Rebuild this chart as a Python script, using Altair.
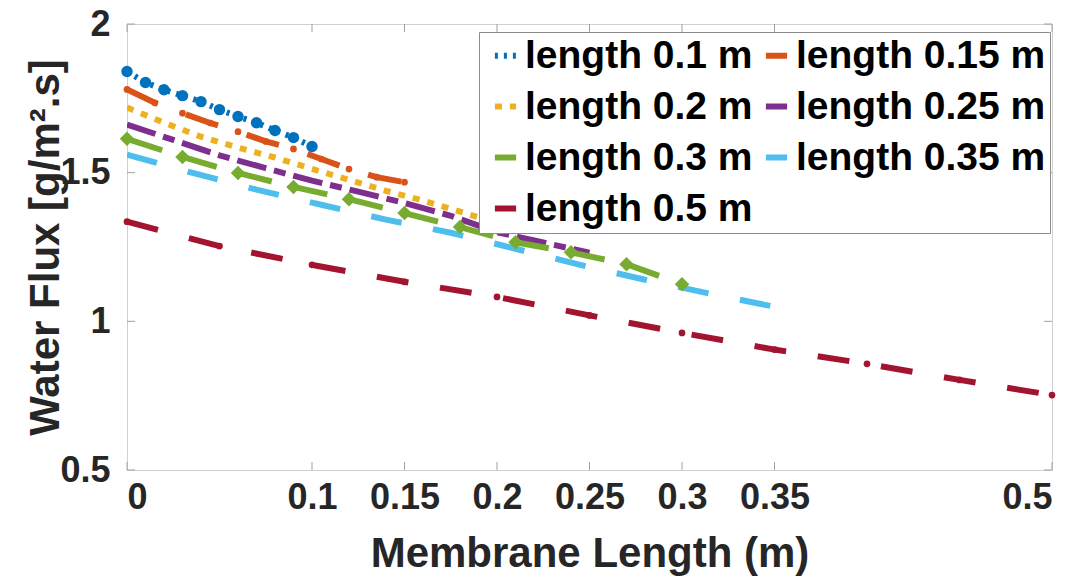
import altair as alt
import pandas as pd

names = ["length 0.1 m", "length 0.15 m", "length 0.2 m", "length 0.25 m",
         "length 0.3 m", "length 0.35 m", "length 0.5 m"]
colors = ["#0072BD", "#D95319", "#EDB120", "#7E2F8E", "#77AC30", "#4DBEEE", "#A2142F"]
dashes = [[3, 6], [34, 30], [7, 8], [30, 8, 12, 8], [37, 20], [31, 32], [32, 32]]

x_010 = [0, 0.01, 0.02, 0.03, 0.04, 0.05, 0.06, 0.07, 0.08, 0.09, 0.10]
y_010 = [1.84, 1.803, 1.779, 1.759, 1.739, 1.712, 1.689, 1.668, 1.642, 1.618, 1.588]

x_015 = [0, 0.015, 0.03, 0.045, 0.06, 0.075, 0.09, 0.105, 0.12, 0.135, 0.15]
y_015 = [1.78, 1.735, 1.70, 1.667, 1.638, 1.605, 1.58, 1.546, 1.512, 1.485, 1.468]

x_020 = [0, 0.02, 0.04, 0.06, 0.08, 0.10, 0.12, 0.14, 0.16, 0.18, 0.20]
y_020 = [1.719, 1.668, 1.621, 1.584, 1.551, 1.513, 1.476, 1.439, 1.406, 1.369, 1.33]

x_025 = [0, 0.025, 0.05, 0.075, 0.10, 0.125, 0.15, 0.175, 0.20, 0.225, 0.25]
y_025 = [1.662, 1.61, 1.558, 1.515, 1.473, 1.436, 1.398, 1.355, 1.30, 1.265, 1.231]

x_030 = [0, 0.03, 0.06, 0.09, 0.12, 0.15, 0.18, 0.21, 0.24, 0.27, 0.30]
y_030 = [1.614, 1.553, 1.499, 1.452, 1.411, 1.364, 1.317, 1.266, 1.232, 1.192, 1.125]

x_035 = [0, 0.035, 0.07, 0.105, 0.14, 0.175, 0.21, 0.245, 0.28, 0.315, 0.35]
y_035 = [1.561, 1.50, 1.443, 1.392, 1.342, 1.298, 1.244, 1.19, 1.14, 1.093, 1.049]

x_050 = [0, 0.05, 0.10, 0.15, 0.20, 0.25, 0.30, 0.35, 0.40, 0.45, 0.50]
y_050 = [1.335, 1.253, 1.19, 1.133, 1.082, 1.02, 0.961, 0.905, 0.857, 0.803, 0.752]

x_ticks = [0, 0.1, 0.15, 0.2, 0.25, 0.3, 0.35, 0.5]
y_ticks = [0.5, 1, 1.5, 2]

series_x = [x_010, x_015, x_020, x_025, x_030, x_035, x_050]
series_y = [y_010, y_015, y_020, y_025, y_030, y_035, y_050]

rows = []
for n, xs, ys in zip(names, series_x, series_y):
    for xv, yv in zip(xs, ys):
        rows.append({"series": n, "x": xv, "y": yv})
df = pd.DataFrame(rows)

W, H = 925, 446
FONT = "Liberation Sans"
xs_scale = alt.Scale(domain=[0, 0.5], nice=False, zero=False)
ys_scale = alt.Scale(domain=[0.5, 2], nice=False, zero=False)

base = alt.Chart(df)

lines = base.mark_line(strokeWidth=6, strokeCap="butt", clip=True).encode(
    x=alt.X("x:Q", scale=xs_scale,
            axis=alt.Axis(values=x_ticks, format="~g", ticks=False, domain=False, grid=False,
                          labelFontSize=36, labelFont=FONT, labelFontWeight="bold",
                          labelColor="#262626", labelPadding=10,
                          title="Membrane Length (m)", titleFont=FONT, titleFontSize=42,
                          titleFontWeight="bold", titleColor="#262626",
                          titleY=96, titleBaseline="alphabetic")),
    y=alt.Y("y:Q", scale=ys_scale,
            axis=alt.Axis(values=y_ticks, format="~g", ticks=False, domain=False, grid=False,
                          labelFontSize=36, labelFont=FONT, labelFontWeight="bold",
                          labelColor="#262626", labelPadding=17,
                          title="Water Flux [g/m².s]", titleFont=FONT, titleFontSize=42,
                          titleFontWeight="bold", titleColor="#262626",
                          titleX=-82, titleY=H / 2, titleAngle=-90,
                          titleAlign="center", titleBaseline="middle")),
    color=alt.Color("series:N", scale=alt.Scale(domain=names, range=colors),
                    legend=alt.Legend(title=None)),
    strokeDash=alt.StrokeDash("series:N", scale=alt.Scale(domain=names, range=dashes),
                              legend=alt.Legend(title=None)),
)


def pts(idx, shape, size):
    return base.transform_filter(alt.datum.series == names[idx]).mark_point(
        filled=True, shape=shape, size=size, opacity=1, color=colors[idx]
    ).encode(x=alt.X("x:Q", scale=xs_scale), y=alt.Y("y:Q", scale=ys_scale))


blue_pts = pts(0, "circle", 130)
orange_pts = pts(1, "circle", 45)
green_pts = pts(4, "diamond", 210)
red_pts = pts(6, "circle", 45)

xt_df = pd.DataFrame({"x": x_ticks})
yt_df = pd.DataFrame({"y": y_ticks})
TICK = "#a0a0a0"
tick_b = alt.Chart(xt_df).mark_rule(color=TICK, strokeWidth=1).encode(
    x=alt.X("x:Q", scale=xs_scale), y=alt.value(H), y2=alt.value(H - 8))
tick_t = alt.Chart(xt_df).mark_rule(color=TICK, strokeWidth=1).encode(
    x=alt.X("x:Q", scale=xs_scale), y=alt.value(0), y2=alt.value(8))
tick_l = alt.Chart(yt_df).mark_rule(color=TICK, strokeWidth=1).encode(
    y=alt.Y("y:Q", scale=ys_scale), x=alt.value(0), x2=alt.value(8))
tick_r = alt.Chart(yt_df).mark_rule(color=TICK, strokeWidth=1).encode(
    y=alt.Y("y:Q", scale=ys_scale), x=alt.value(W), x2=alt.value(W - 8))

chart = alt.layer(
    lines, tick_b, tick_t, tick_l, tick_r, blue_pts, orange_pts, green_pts, red_pts
).properties(
    width=W, height=H, background="white",
    autosize=alt.AutoSizeParams(type="none"),
    padding={"left": 127, "top": 24, "right": 32, "bottom": 109},
).configure_view(
    stroke="#d0d0d0", strokeWidth=1
).configure_legend(
    orient="none", legendX=352, legendY=8, columns=2, direction="horizontal",
    fillColor="white", strokeColor="#8c8c8c", padding=4,
    labelFont=FONT, labelFontSize=39, labelFontWeight="bold", labelColor="black",
    labelLimit=500, labelOffset=0, symbolOffset=3, rowPadding=11, columnPadding=0,
    symbolType="stroke", symbolSize=450, symbolStrokeWidth=6,
)

chart.save("out.html", embed_options={"renderer": "svg", "actions": False})
